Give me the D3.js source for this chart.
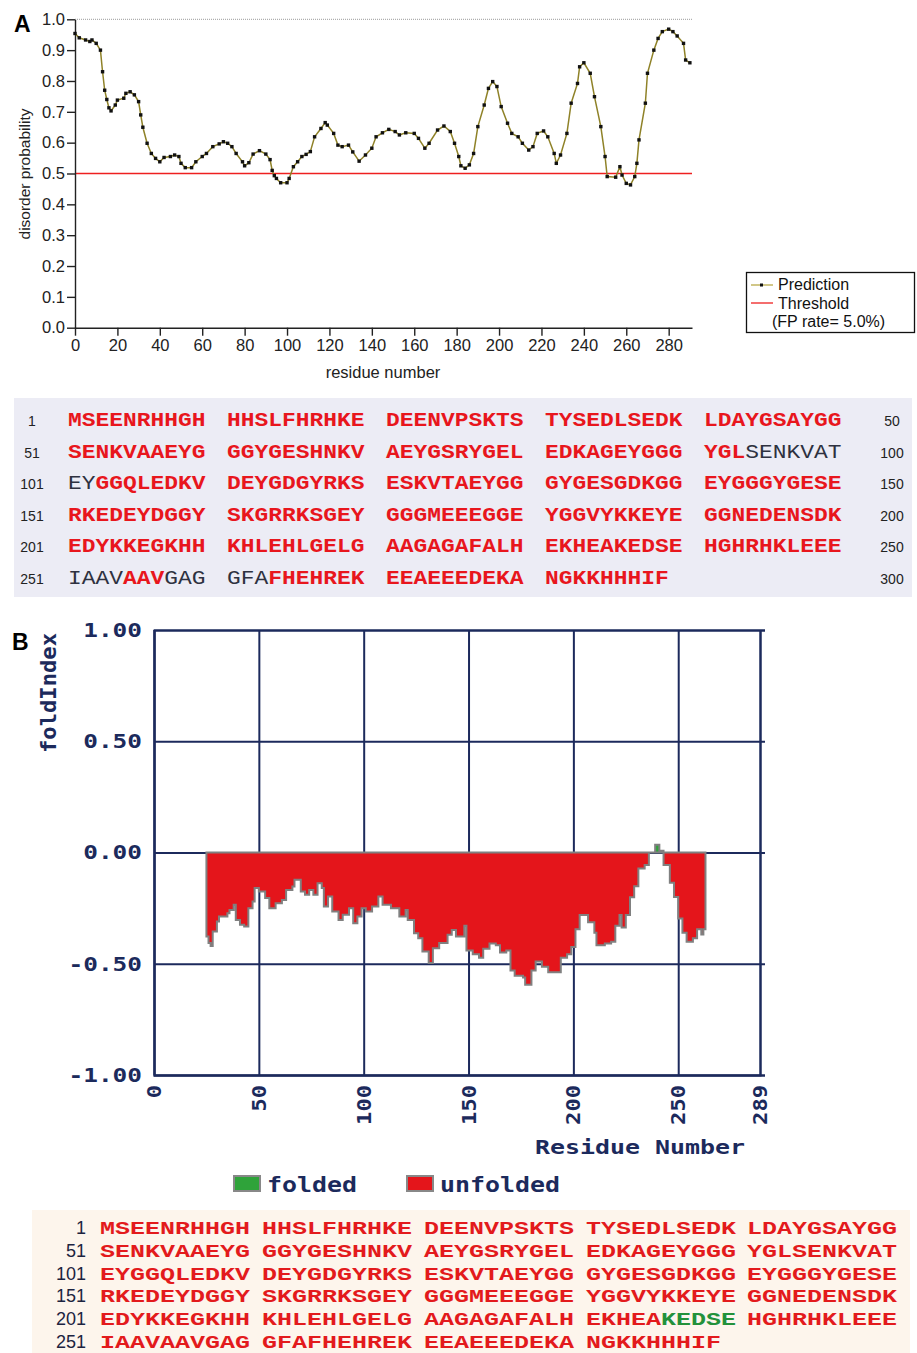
<!DOCTYPE html>
<html>
<head>
<meta charset="utf-8">
<script src="https://cdn.jsdelivr.net/npm/d3@7"></script>
<style>
  body { margin: 0; background: #fff; }
</style>
</head>
<body>
<div id="fig"></div>
<script>
// ---- panel A: disorder probability per residue
const residueA = [0, 2, 5, 7, 8, 10, 12, 13, 14, 15, 16, 17, 19, 20, 23, 24, 26, 28, 30, 31, 32, 34, 36, 38, 40, 42, 45, 47, 49, 50,
  52, 55, 57, 60, 62, 65, 68, 70, 72, 74, 76, 79, 80, 82, 84, 87, 90, 92, 93, 94, 95, 97, 100, 101, 103, 105, 107, 109, 111, 113,
  116, 118, 119, 122, 124, 126, 129, 131, 134, 137, 140, 142, 145, 148, 151, 153, 156, 160, 162, 165, 167, 171, 174, 177, 179, 181, 182, 184, 186, 188,
  190, 193, 195, 197, 199, 201, 204, 206, 209, 211, 214, 216, 218, 221, 223, 226, 227, 229, 232, 234, 237, 238, 240, 243, 245, 248, 250, 251, 255, 257,
  258, 260, 262, 264, 265, 266, 269, 270, 273, 275, 277, 280, 282, 284, 287, 288, 290];
const disorderA = [0.954, 0.94, 0.933, 0.928, 0.933, 0.922, 0.9, 0.83, 0.77, 0.74, 0.713, 0.703, 0.722, 0.738, 0.744, 0.76, 0.765, 0.755, 0.733, 0.69,
  0.65, 0.598, 0.565, 0.549, 0.538, 0.552, 0.555, 0.56, 0.555, 0.533, 0.519, 0.519, 0.538, 0.555, 0.565, 0.587, 0.596, 0.603, 0.598, 0.587,
  0.565, 0.538, 0.525, 0.535, 0.563, 0.574, 0.563, 0.545, 0.51, 0.493, 0.484, 0.47, 0.47, 0.484, 0.522, 0.538, 0.555, 0.562, 0.571, 0.619,
  0.646, 0.665, 0.657, 0.63, 0.592, 0.587, 0.592, 0.57, 0.54, 0.56, 0.582, 0.619, 0.632, 0.643, 0.636, 0.625, 0.632, 0.63, 0.614, 0.582,
  0.598, 0.641, 0.654, 0.636, 0.598, 0.555, 0.525, 0.517, 0.528, 0.565, 0.652, 0.722, 0.776, 0.798, 0.782, 0.717, 0.663, 0.63, 0.619, 0.598,
  0.576, 0.587, 0.63, 0.638, 0.619, 0.565, 0.533, 0.56, 0.63, 0.728, 0.792, 0.846, 0.859, 0.825, 0.749, 0.652, 0.555, 0.49, 0.488, 0.522,
  0.495, 0.468, 0.463, 0.49, 0.533, 0.609, 0.728, 0.825, 0.9, 0.938, 0.96, 0.968, 0.96, 0.946, 0.922, 0.868, 0.859];
const thresholdA = 0.5;
const xTicksA = [0, 20, 40, 60, 80, 100, 120, 140, 160, 180, 200, 220, 240, 260, 280];
const yTicksA = [0, 0.1, 0.2, 0.3, 0.4, 0.5, 0.6, 0.7, 0.8, 0.9, 1.0];
const legendA = ["Prediction", "Threshold", "(FP rate= 5.0%)"];

// ---- panel B: FoldIndex per residue
const residueB = [25, 26, 27, 28, 30, 31, 35, 36, 38, 39, 41, 43, 45, 47, 48, 50, 53, 55, 58, 61, 63, 66, 67, 70, 72, 74, 76, 78, 80, 81,
  83, 85, 88, 90, 93, 95, 97, 99, 101, 104, 107, 109, 113, 117, 120, 121, 124, 126, 128, 131, 133, 136, 140, 142, 144, 148, 149, 152, 155, 157,
  160, 163, 165, 168, 170, 172, 176, 177, 180, 182, 185, 188, 191, 194, 197, 199, 201, 203, 205, 207, 210, 211, 215, 218, 220, 222, 223, 225, 227, 229,
  231, 234, 236, 239, 241, 243, 246, 248, 250, 252, 254, 257, 259, 261, 262, 263];
const foldB = [-0.378, -0.407, -0.42, -0.355, -0.31, -0.288, -0.273, -0.258, -0.235, -0.303, -0.325, -0.333, -0.25, -0.22, -0.16, -0.175, -0.205, -0.25, -0.228, -0.213,
  -0.168, -0.153, -0.123, -0.175, -0.19, -0.168, -0.19, -0.138, -0.16, -0.243, -0.198, -0.265, -0.303, -0.28, -0.25, -0.318, -0.288, -0.25, -0.265, -0.243,
  -0.198, -0.235, -0.25, -0.288, -0.258, -0.303, -0.363, -0.385, -0.445, -0.497, -0.43, -0.407, -0.37, -0.348, -0.378, -0.329, -0.441, -0.457, -0.473, -0.433,
  -0.409, -0.417, -0.449, -0.441, -0.53, -0.554, -0.562, -0.594, -0.53, -0.49, -0.514, -0.538, -0.538, -0.473, -0.457, -0.425, -0.345, -0.281, -0.281, -0.313,
  -0.361, -0.417, -0.409, -0.401, -0.329, -0.281, -0.337, -0.281, -0.201, -0.152, -0.072, -0.056, 0, 0.035, 0.008, -0.056, -0.136, -0.2, -0.297, -0.361,
  -0.401, -0.385, -0.345, -0.369, -0.345, -0.33];
const xTicksB = [0, 50, 100, 150, 200, 250, 289];
const yTicksB = [1, 0.5, 0, -0.5, -1];
const legendB = ["folded", "unfolded"];

// ---- protein sequence and highlighted stretches (1-based, inclusive)
const sequence = "MSEENRHHGHHHSLFHRHKEDEENVPSKTSTYSEDLSEDKLDAYGSAYGG" +
  "SENKVAAEYGGGYGESHNKVAEYGSRYGELEDKAGEYGGGYGLSENKVAT" +
  "EYGGQLEDKVDEYGDGYRKSESKVTAEYGGGYGESGDKGGEYGGGYGESE" +
  "RKEDEYDGGYSKGRRKSGEYGGGMEEEGGEYGGVYKKEYEGGNEDENSDK" +
  "EDYKKEGKHHKHLEHLGELGAAGAGAFALHEKHEAKEDSEHGHRHKLEEE" +
  "IAAVAAVGAGGFAFHEHREKEEAEEEDEKANGKKHHHIF";
const orderedA = [[94, 102], [251, 254], [258, 263]]; // plain type in panel A
const foldedB = [[236, 240]];                          // green in panel B

const W = 917, H = 1353;
const red = "#e8161d", navy = "#1c2a5c";

const svg = d3.select("#fig").append("svg")
  .attr("width", W).attr("height", H)
  .style("font-family", "'Liberation Sans', Arial, sans-serif");

// =================== A
const xA = d3.scaleLinear().domain([0, 291]).range([75, 692]);
const yA = d3.scaleLinear().domain([0, 1]).range([327.7, 19.3]);

svg.append("text").attr("x", 14).attr("y", 32)
  .style("font-size", "23px").style("font-weight", "bold").text("A");

svg.append("line")
  .attr("x1", xA(0)).attr("x2", xA(291)).attr("y1", yA(1)).attr("y2", yA(1))
  .attr("stroke", "#9a9a9a").attr("stroke-dasharray", "1,1");

svg.append("line")
  .attr("x1", xA(0)).attr("x2", xA(291)).attr("y1", yA(thresholdA)).attr("y2", yA(thresholdA))
  .attr("stroke", "#ee2020").attr("stroke-width", 1.3);

const axA = svg.append("g").attr("class", "axA");
axA.append("g")
  .attr("transform", `translate(${xA(0)},0)`)
  .call(d3.axisLeft(yA).tickValues(yTicksA).tickFormat(d3.format(".1f")).tickSize(8).tickPadding(2).tickSizeOuter(0));
axA.append("g")
  .attr("transform", `translate(0,${yA(0)})`)
  .call(d3.axisBottom(xA).tickValues(xTicksA).tickSize(8).tickPadding(4).tickSizeOuter(0));
axA.selectAll("path, line").attr("stroke", "#222").attr("stroke-width", 1.4);
axA.selectAll("text").style("font-size", "16.5px").style("font-family", "'Liberation Sans', Arial, sans-serif").attr("fill", "#222");

svg.append("text")
  .attr("transform", "translate(30,174) rotate(-90)")
  .attr("text-anchor", "middle").style("font-size", "15.5px").attr("fill", "#222")
  .text("disorder probability");
svg.append("text")
  .attr("x", 383).attr("y", 378).attr("text-anchor", "middle")
  .style("font-size", "16.5px").attr("fill", "#222")
  .text("residue number");

const lineA = d3.line().x((d, i) => xA(residueA[i])).y(d => yA(d));
svg.append("path").datum(disorderA)
  .attr("d", lineA).attr("fill", "none")
  .attr("stroke", "#8f8228").attr("stroke-width", 1.5);
svg.append("g").selectAll("rect").data(disorderA).join("rect")
  .attr("x", (d, i) => xA(residueA[i]) - 1.7)
  .attr("y", d => yA(d) - 1.7)
  .attr("width", 3.4).attr("height", 3.4).attr("fill", "#111");

// legend A
const lg = svg.append("g");
lg.append("rect").attr("x", 746.5).attr("y", 272.5).attr("width", 168).attr("height", 60)
  .attr("fill", "#fff").attr("stroke", "#111").attr("stroke-width", 1.3);
lg.append("line").attr("x1", 751).attr("x2", 773).attr("y1", 285).attr("y2", 285)
  .attr("stroke", "#b3a23a").attr("stroke-width", 1.2);
lg.append("rect").attr("x", 760).attr("y", 283.5).attr("width", 3).attr("height", 3).attr("fill", "#111");
lg.append("line").attr("x1", 751).attr("x2", 773).attr("y1", 303).attr("y2", 303)
  .attr("stroke", "#ee2020").attr("stroke-width", 1.3);
lg.selectAll("text.l").data(legendA).join("text")
  .attr("x", (d, i) => i < 2 ? 778 : 772)
  .attr("y", (d, i) => 290 + i * 18.5)
  .style("font-size", "16px").attr("fill", "#111")
  .text(d => d);

// =================== sequence boxes
function runs(start, end, ranges, flagCls, baseCls) {
  const out = [];
  for (let r = start; r <= end; r++) {
    const cls = ranges.some(([a, b]) => r >= a && r <= b) ? flagCls : baseCls;
    if (out.length && out[out.length - 1].cls === cls) out[out.length - 1].txt += sequence[r - 1];
    else out.push({ cls, txt: sequence[r - 1] });
  }
  return out;
}

function seqBox(opt) {
  const g = svg.append("g");
  g.append("rect").attr("x", opt.box[0]).attr("y", opt.box[1])
    .attr("width", opt.box[2]).attr("height", opt.box[3]).attr("fill", opt.bg);
  for (let row = 0; row < 6; row++) {
    const y = opt.y0 + row * opt.dy;
    g.append("text").attr("x", opt.numX).attr("y", y)
      .attr("text-anchor", opt.numAnchor)
      .style("font-size", opt.numSize + "px").attr("fill", opt.numColor)
      .text(row * 50 + 1);
    if (opt.rightX) {
      g.append("text").attr("x", opt.rightX).attr("y", y).attr("text-anchor", "middle")
        .style("font-size", opt.numSize + "px").attr("fill", opt.numColor)
        .text(row * 50 + 50);
    }
    for (let grp = 0; grp < 5; grp++) {
      const s = row * 50 + grp * 10 + 1;
      if (s > sequence.length) continue;
      const e = Math.min(s + 9, sequence.length);
      const t = g.append("text")
        .attr("x", opt.gx[grp]).attr("y", y)
        .attr("textLength", (e - s + 1) * opt.adv).attr("lengthAdjust", "spacingAndGlyphs")
        .style("font-family", "'Liberation Mono', 'Courier New', monospace")
        .style("font-size", opt.size + "px");
      runs(s, e, opt.ranges, "alt", "main").forEach(rn => {
        const st = opt.styles[rn.cls];
        t.append("tspan").attr("fill", st.fill).style("font-weight", st.weight).text(rn.txt);
      });
    }
  }
}

seqBox({
  box: [14, 398, 898, 199], bg: "#ececf5",
  y0: 426, dy: 31.5, numX: 32, numAnchor: "middle", rightX: 892, numSize: 14, numColor: "#222",
  gx: [68, 227, 386, 545, 704], adv: 13.75, size: 21,
  ranges: orderedA,
  styles: { main: { fill: red, weight: "bold" }, alt: { fill: "#2e3140", weight: "normal" } }
});

// =================== B
const xB = d3.scaleLinear().domain([0, 289]).range([154, 760]);
const yB = d3.scaleLinear().domain([-1, 1]).range([1075, 630]);
const mono = "'DejaVu Sans Mono', 'Liberation Mono', monospace";

svg.append("text").attr("x", 12).attr("y", 650)
  .style("font-size", "23px").style("font-weight", "bold").text("B");

const grid = svg.append("g");
grid.append("g")
  .attr("transform", `translate(${xB(0)},0)`)
  .call(d3.axisLeft(yB).tickValues(yTicksB).tickSize(-(xB(289) - xB(0) + 5)).tickFormat(d => d.toFixed(2)).tickPadding(12));
grid.append("g")
  .attr("transform", `translate(0,${yB(-1)})`)
  .call(d3.axisBottom(xB).tickValues(xTicksB).tickSize(-(yB(-1) - yB(1))).tickFormat(""));
grid.selectAll("path, line").attr("stroke", navy).attr("stroke-width", 2);
grid.selectAll("text")
  .attr("fill", navy).style("font-family", mono).style("font-weight", "bold").style("font-size", "20px")
  .attr("textLength", function () { return this.textContent.length * 14.7; })
  .attr("lengthAdjust", "spacingAndGlyphs");

svg.append("g").selectAll("text").data(xTicksB).join("text")
  .attr("transform", d => `translate(${xB(d)},1085) rotate(-90)`)
  .attr("text-anchor", "end").attr("dy", "0.35em")
  .attr("fill", navy).style("font-family", mono).style("font-weight", "bold").style("font-size", "20px")
  .attr("textLength", d => String(d).length * 13.3).attr("lengthAdjust", "spacingAndGlyphs")
  .text(d => d);

const stepArea = f => d3.area().curve(d3.curveStepAfter)
  .x((d, i) => xB(residueB[i])).y0(yB(0)).y1(d => yB(f(d)));
svg.append("path").datum(foldB).attr("d", stepArea(d => Math.min(d, 0))).attr("fill", "#e4151b");
svg.append("path").datum(foldB).attr("d", stepArea(d => Math.max(d, 0))).attr("fill", "#2fa33a");
svg.append("path").datum(foldB).attr("d", stepArea(d => d))
  .attr("fill", "none").attr("stroke", "#808080").attr("stroke-width", 2);

svg.append("text")
  .attr("transform", "translate(56,693) rotate(-90)").attr("text-anchor", "middle")
  .attr("fill", navy).style("font-family", mono).style("font-weight", "bold").style("font-size", "21px")
  .attr("textLength", 120).attr("lengthAdjust", "spacingAndGlyphs")
  .text("foldIndex");
svg.append("text")
  .attr("x", 535).attr("y", 1154)
  .attr("fill", navy).style("font-family", mono).style("font-weight", "bold").style("font-size", "20px")
  .attr("textLength", 210).attr("lengthAdjust", "spacingAndGlyphs")
  .text("Residue Number");

// legend B
const lgB = svg.append("g");
const legCol = ["#2fa33a", "#e4151b"];
legendB.forEach((name, i) => {
  const x0 = [233, 406][i];
  lgB.append("rect").attr("x", x0 + 1).attr("y", 1176).attr("width", 26).attr("height", 15)
    .attr("fill", legCol[i]).attr("stroke", "#888").attr("stroke-width", 2);
  lgB.append("text").attr("x", x0 + 34).attr("y", 1192)
    .attr("fill", navy).style("font-family", mono).style("font-weight", "bold").style("font-size", "21px")
    .attr("textLength", name.length * 15).attr("lengthAdjust", "spacingAndGlyphs")
    .text(name);
});

seqBox({
  box: [32, 1210, 878, 143], bg: "#fdf5ec",
  y0: 1234, dy: 22.8, numX: 86, numAnchor: "end", rightX: null, numSize: 18, numColor: "#1c2340",
  gx: [100, 262, 424, 586, 747], adv: 15, size: 19,
  ranges: foldedB,
  styles: { main: { fill: "#e31a1c", weight: "bold" }, alt: { fill: "#23913a", weight: "bold" } }
});
</script>
</body>
</html>
